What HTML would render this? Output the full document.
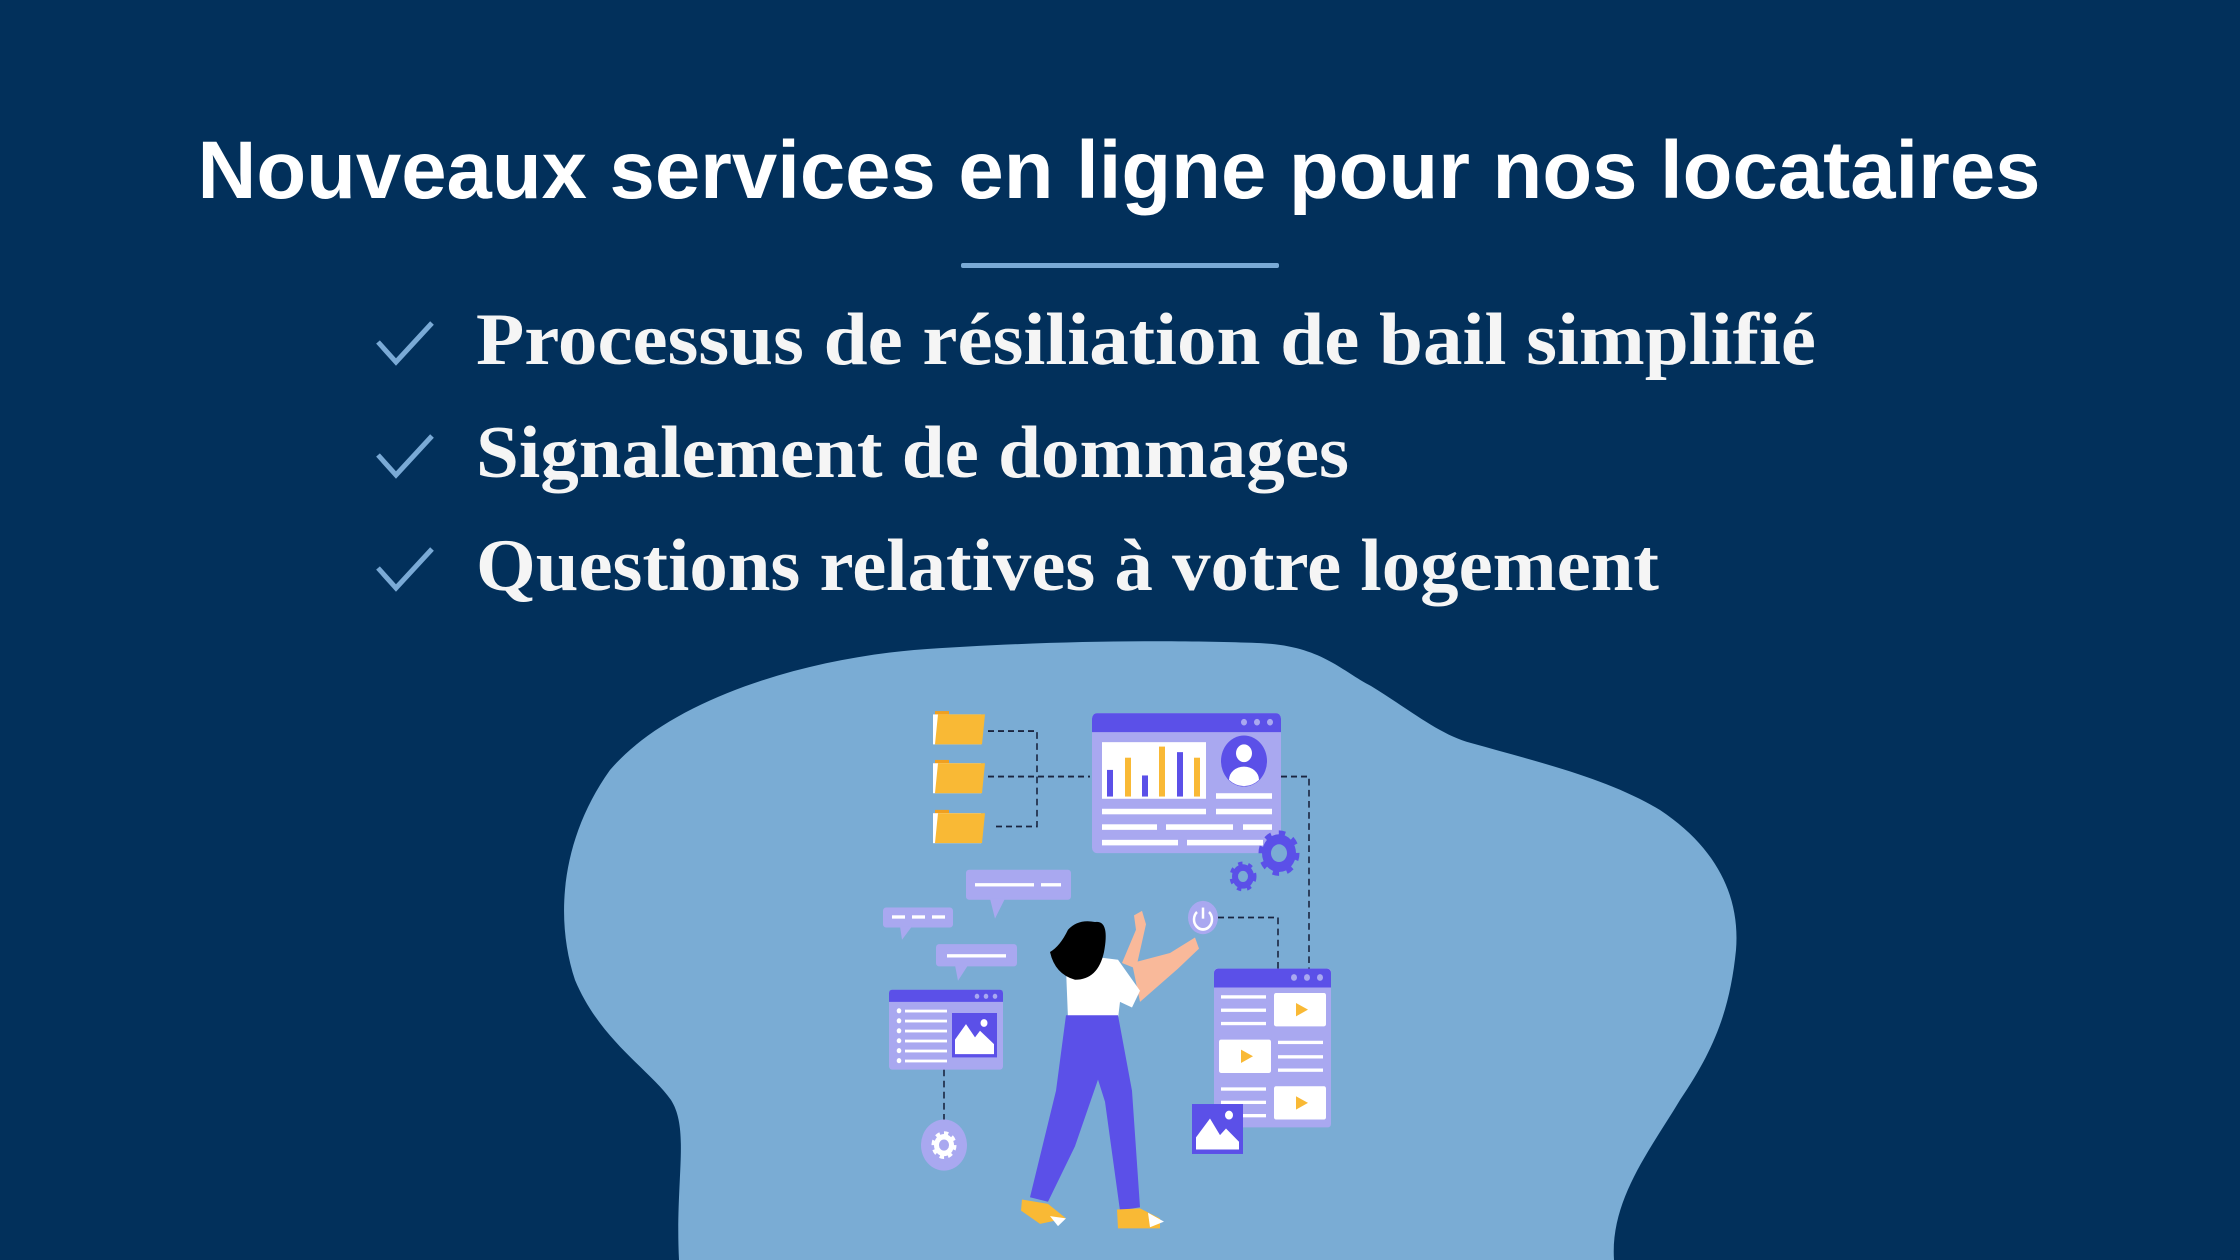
<!DOCTYPE html>
<html><head><meta charset="utf-8"><style>
html,body{margin:0;padding:0;background:#02305b;}
svg{display:block}
</style></head><body>
<svg width="2240" height="1260" viewBox="0 0 2240 1260" xmlns="http://www.w3.org/2000/svg">
<rect width="2240" height="1260" fill="#02305b"/>
<text x="1119" y="198" text-anchor="middle" font-family="Liberation Sans, sans-serif" font-weight="bold" font-size="82" fill="#fff" textLength="1843" lengthAdjust="spacingAndGlyphs">Nouveaux services en ligne pour nos locataires</text>
<rect x="961" y="263" width="318" height="5" rx="2" fill="#7aaad6"/>
<g fill="none" stroke="#7aaad6" stroke-width="5">
<polyline points="378,342 396,362 432,323"/>
<polyline points="378,455 396,475 432,436"/>
<polyline points="378,568 396,588 432,549"/>
</g>
<g font-family="Liberation Serif, serif" font-weight="bold" font-size="74" fill="#f5f5f5">
<text x="476" y="364" textLength="1340" lengthAdjust="spacingAndGlyphs">Processus de résiliation de bail simplifié</text>
<text x="476" y="477" textLength="873" lengthAdjust="spacingAndGlyphs">Signalement de dommages</text>
<text x="476" y="590" textLength="1183" lengthAdjust="spacingAndGlyphs">Questions relatives à votre logement</text>
</g>
<path d="M679,1260 C675,1180 690,1130 671,1100 C650,1070 600,1040 575,980 C555,920 560,840 610,770 C670,700 800,660 914,650 C1050,640 1180,640 1257,643 C1320,645 1340,670 1371,686 C1410,710 1440,735 1471,743 C1550,765 1610,780 1660,810 C1720,850 1740,900 1736,950 C1730,1010 1714,1050 1680,1100 C1650,1150 1610,1200 1614,1260 Z" fill="#7aacd4"/>
<g transform="translate(0,680) scale(1,1.11) translate(0,-680)">
<g fill="none" stroke="#1a2540" stroke-width="1.6" stroke-dasharray="6,4">
<polyline points="988,726 1037,726 1037,812 993,812"/>
<line x1="988" y1="767" x2="1090" y2="767"/>
<polyline points="1281,767 1309,767 1309,940"/>
<polyline points="1218,894 1278,894 1278,940"/>
<line x1="944" y1="1031" x2="944" y2="1078"/>
</g>
<g>
<g transform="translate(933,708)"><rect x="2" y="0" width="14" height="4" fill="#f0a020"/><rect x="0" y="3" width="48" height="27" fill="#fff"/><polygon points="5,3 52,3 49,30 2,30" fill="#f9b935"/></g>
<g transform="translate(933,752)"><rect x="2" y="0" width="14" height="4" fill="#f0a020"/><rect x="0" y="3" width="48" height="27" fill="#fff"/><polygon points="5,3 52,3 49,30 2,30" fill="#f9b935"/></g>
<g transform="translate(933,797)"><rect x="2" y="0" width="14" height="4" fill="#f0a020"/><rect x="0" y="3" width="48" height="27" fill="#fff"/><polygon points="5,3 52,3 49,30 2,30" fill="#f9b935"/></g>
</g>
<rect x="1092" y="710" width="189" height="126" rx="5" fill="#a9a8f0"/>
<path d="M1092,727 V715 a5,5 0 0 1 5,-5 H1276 a5,5 0 0 1 5,5 V727 Z" fill="#5b50e8"/>
<g fill="#a9a8f0"><circle cx="1244" cy="718" r="3"/><circle cx="1257" cy="718" r="3"/><circle cx="1270" cy="718" r="3"/></g>
<rect x="1102" y="736" width="104" height="51" fill="#fff"/>
<g><rect x="1107" y="761" width="6" height="24" fill="#5b50e8"/><rect x="1125" y="750" width="6" height="35" fill="#f9b935"/><rect x="1142" y="766" width="6" height="19" fill="#5b50e8"/><rect x="1159" y="740" width="6" height="45" fill="#f9b935"/><rect x="1177" y="745" width="6" height="40" fill="#5b50e8"/><rect x="1194" y="750" width="6" height="35" fill="#f9b935"/></g>
<circle cx="1244" cy="753" r="23" fill="#5b50e8"/><circle cx="1244" cy="746" r="8" fill="#fff"/><path d="M1229,770 a15,12 0 0 1 30,0 a23,23 0 0 1 -30,0Z" fill="#fff"/>
<g fill="#fff"><rect x="1216" y="782" width="56" height="5"/><rect x="1102" y="796" width="104" height="5"/><rect x="1216" y="796" width="56" height="5"/><rect x="1102" y="810" width="55" height="5"/><rect x="1166" y="810" width="67" height="5"/><rect x="1243" y="810" width="29" height="5"/><rect x="1102" y="824" width="76" height="5"/><rect x="1187" y="824" width="76" height="5"/></g>
<g fill="#5b50e8"><circle cx="1279" cy="836" r="17"/><g stroke="#5b50e8" stroke-width="7" stroke-dasharray="6,7.3"><circle cx="1279" cy="836" r="17" fill="none"/></g><circle cx="1279" cy="836" r="8" fill="#7aacd4"/>
<circle cx="1243" cy="857" r="11"/><g stroke="#5b50e8" stroke-width="5" stroke-dasharray="4,5.4"><circle cx="1243" cy="857" r="11" fill="none"/></g><circle cx="1243" cy="857" r="5" fill="#7aacd4"/></g>
<circle cx="1203" cy="894" r="15" fill="#a9a8f0"/><path d="M1197,889 a9,9 0 1 0 12,0" fill="none" stroke="#fff" stroke-width="2.5"/><line x1="1203" y1="885" x2="1203" y2="895" stroke="#fff" stroke-width="2.5"/>
<rect x="1214" y="940" width="117" height="143" rx="3" fill="#a9a8f0"/>
<path d="M1214,957 V944 a4,4 0 0 1 4,-4 H1327 a4,4 0 0 1 4,4 V957 Z" fill="#5b50e8"/>
<g fill="#a9a8f0"><circle cx="1294" cy="948" r="3"/><circle cx="1307" cy="948" r="3"/><circle cx="1320" cy="948" r="3"/></g>
<g fill="#fff"><rect x="1274" y="962" width="52" height="30" rx="2"/><rect x="1219" y="1004" width="52" height="30" rx="2"/><rect x="1274" y="1046" width="52" height="30" rx="2"/>
<rect x="1221" y="964" width="45" height="3"/><rect x="1221" y="976" width="45" height="3"/><rect x="1221" y="988" width="45" height="3"/>
<rect x="1278" y="1005" width="45" height="3"/><rect x="1278" y="1018" width="45" height="3"/><rect x="1278" y="1030" width="45" height="3"/>
<rect x="1221" y="1047" width="45" height="3"/><rect x="1221" y="1059" width="45" height="3"/><rect x="1221" y="1071" width="45" height="3"/></g>
<g fill="#f9b935"><polygon points="1296,971 1308,977 1296,983"/><polygon points="1241,1013 1253,1019 1241,1025"/><polygon points="1296,1055 1308,1061 1296,1067"/></g>
<rect x="1192" y="1062" width="51" height="45" fill="#5b50e8"/><polygon points="1196,1103 1196,1092 1210,1075 1220,1090 1226,1084 1239,1096 1239,1103" fill="#fff"/><circle cx="1229" cy="1072" r="4" fill="#fff"/>
<g fill="#a9a8f0">
<rect x="966" y="851" width="105" height="27" rx="3"/><polygon points="990,877 1005,877 995,895"/>
<rect x="883" y="885" width="70" height="18" rx="3"/><polygon points="900,902 912,902 902,914"/>
<rect x="936" y="918" width="81" height="20" rx="3"/><polygon points="955,937 968,937 958,951"/>
</g>
<g fill="#fff"><rect x="975" y="863" width="59" height="3"/><rect x="1041" y="863" width="20" height="3"/><rect x="892" y="892" width="13" height="3"/><rect x="912" y="892" width="13" height="3"/><rect x="932" y="892" width="13" height="3"/><rect x="947" y="927" width="59" height="3"/></g>
<rect x="889" y="959" width="114" height="72" rx="3" fill="#a9a8f0"/>
<path d="M889,970 V962 a3,3 0 0 1 3,-3 H1000 a3,3 0 0 1 3,3 V970 Z" fill="#5b50e8"/>
<g fill="#a9a8f0"><circle cx="977" cy="965" r="2.3"/><circle cx="986" cy="965" r="2.3"/><circle cx="995" cy="965" r="2.3"/></g>
<g fill="#fff"><circle cx="899" cy="978" r="2.3"/><circle cx="899" cy="987" r="2.3"/><circle cx="899" cy="996" r="2.3"/><circle cx="899" cy="1005" r="2.3"/><circle cx="899" cy="1014" r="2.3"/><circle cx="899" cy="1023" r="2.3"/>
<rect x="905" y="977" width="42" height="2.5"/><rect x="905" y="986" width="42" height="2.5"/><rect x="905" y="995" width="42" height="2.5"/><rect x="905" y="1004" width="42" height="2.5"/><rect x="905" y="1013" width="42" height="2.5"/><rect x="905" y="1022" width="42" height="2.5"/></g>
<rect x="952" y="980" width="45" height="40" fill="#5b50e8"/><polygon points="955,1017 955,1004 966,990 975,1002 980,996 994,1008 994,1017" fill="#fff"/><circle cx="984" cy="989" r="3.5" fill="#fff"/>
<circle cx="944" cy="1099" r="23" fill="#a9a8f0"/><circle cx="944" cy="1099" r="10" fill="#fff"/><circle cx="944" cy="1099" r="10" fill="none" stroke="#fff" stroke-width="5" stroke-dasharray="4,3.8"/><circle cx="944" cy="1099" r="5" fill="#a9a8f0"/>
<path d="M1122,935 L1136,905 L1134,892 L1142,888 L1146,900 L1136,940 Z" fill="#f9b99a"/>
<path d="M1132,935 L1170,926 L1195,912 L1199,922 L1178,940 L1140,970 Z" fill="#f9b99a"/>
<path d="M1066,940 Q1072,928 1100,930 L1118,932 L1140,960 L1132,975 L1120,970 L1118,985 L1068,985 Z" fill="#fff"/>
<path d="M1066,982 L1118,982 L1132,1050 L1140,1155 L1120,1158 L1105,1060 L1098,1040 L1075,1100 L1048,1150 L1030,1146 L1056,1050 Z" fill="#5b50e8"/>
<path d="M1095,898 Q1110,896 1104,925 Q1098,950 1075,950 Q1055,945 1050,925 Q1060,920 1068,905 Q1078,895 1095,898Z" fill="#000"/>
<path d="M1022,1148 L1048,1152 L1066,1165 L1040,1170 L1021,1158 Z" fill="#f9b935"/><path d="M1050,1163 L1066,1165 L1058,1172Z" fill="#fff"/>
<path d="M1117,1157 L1140,1156 L1160,1165 L1160,1174 L1118,1174 Z" fill="#f9b935"/><path d="M1148,1160 L1164,1168 L1150,1173Z" fill="#fff"/>
</g>
</svg>
</body></html>
